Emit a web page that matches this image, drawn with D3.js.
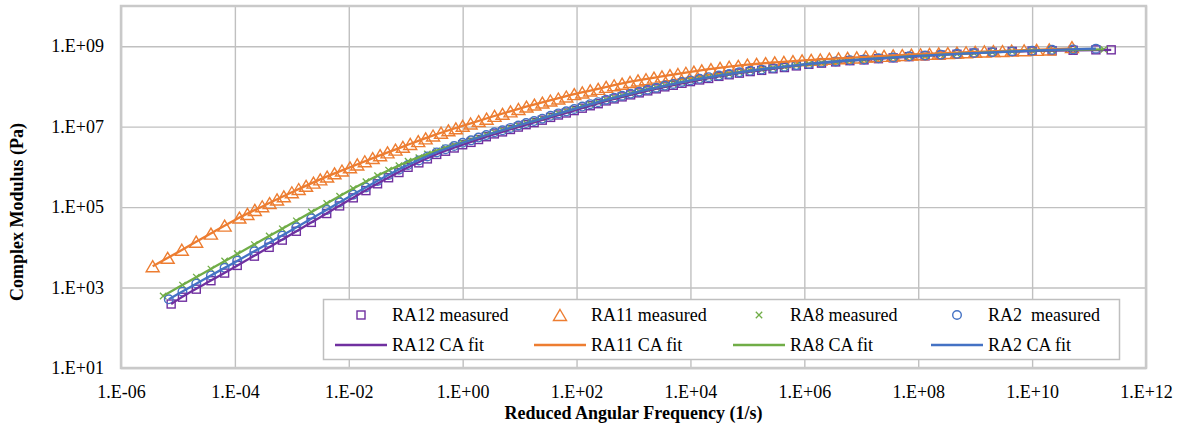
<!DOCTYPE html>
<html>
<head>
<meta charset="utf-8">
<script src="https://cdn.jsdelivr.net/npm/d3@7"></script>
<style>
    body { margin: 0; background: #ffffff; }
    svg { display: block; font-family: "Liberation Serif", "Times New Roman", serif; }
</style>
</head>
<body>
<div id="chart"></div>
<script>
// tick values and labels
var xTicks = [1e-6, 1e-4, 1e-2, 1e0, 1e2, 1e4, 1e6, 1e8, 1e10, 1e12];
var xTickLabels = ["1.E-06", "1.E-04", "1.E-02", "1.E+00", "1.E+02", "1.E+04", "1.E+06", "1.E+08", "1.E+10", "1.E+12"];
var yTicks = [1e1, 1e3, 1e5, 1e7, 1e9];
var yTickLabels = ["1.E+01", "1.E+03", "1.E+05", "1.E+07", "1.E+09"];

// measured data, reduced angular frequency (1/s) and complex modulus (Pa)
var ra12Freq = [7.6e-6, 1.2e-5, 2.1e-5, 3.8e-5, 6.6e-5, 1.1e-4, 2.2e-4, 4.0e-4, 6.8e-4, 1.2e-3, 2.2e-3, 4.1e-3, 6.9e-3, 1.2e-2, 2.0e-2, 3.2e-2, 5.0e-2, 7.6e-2, 0.11, 0.17, 0.24, 0.35, 0.50, 0.71, 1.0, 1.4, 1.9, 2.6, 3.6, 5.0, 6.9, 9.5, 13, 18, 25, 35, 48, 66, 91, 126, 174, 240, 331, 457, 631, 891, 1.26e3, 1.78e3, 2.51e3, 3.55e3, 5.0e3, 7.1e3, 1.0e4, 1.45e4, 2.09e4, 3.16e4, 4.79e4, 7.24e4, 1.12e5, 1.78e5, 2.82e5, 4.47e5, 7.24e5, 1.2e6, 2.0e6, 3.55e6, 6.31e6, 1.12e7, 2.0e7, 3.63e7, 6.92e7, 1.32e8, 2.51e8, 4.79e8, 9.55e8, 2.0e9, 4.47e9, 1.0e10, 2.24e10, 5.25e10, 1.32e11, 2.45e11];
var ra12Mod = [3.9e2, 5.75e2, 9.12e2, 1.48e3, 2.29e3, 3.55e3, 6.03e3, 1.0e4, 1.51e4, 2.51e4, 4.17e4, 6.92e4, 1.07e5, 1.70e5, 2.57e5, 3.80e5, 5.37e5, 7.24e5, 9.77e5, 1.26e6, 1.58e6, 2.04e6, 2.45e6, 2.95e6, 3.55e6, 4.07e6, 4.79e6, 5.62e6, 6.61e6, 7.41e6, 8.51e6, 9.77e6, 1.12e7, 1.26e7, 1.45e7, 1.70e7, 1.95e7, 2.19e7, 2.51e7, 2.88e7, 3.31e7, 3.72e7, 4.37e7, 4.90e7, 5.50e7, 6.17e7, 6.92e7, 7.76e7, 8.71e7, 9.77e7, 1.07e8, 1.20e8, 1.32e8, 1.45e8, 1.58e8, 1.78e8, 1.95e8, 2.14e8, 2.34e8, 2.51e8, 2.75e8, 2.95e8, 3.24e8, 3.55e8, 3.80e8, 4.07e8, 4.37e8, 4.57e8, 4.90e8, 5.13e8, 5.50e8, 5.75e8, 6.03e8, 6.31e8, 6.76e8, 7.08e8, 7.41e8, 7.59e8, 7.76e8, 7.94e8, 8.13e8, 8.13e8];

var ra11Freq = [3.6e-6, 6.6e-6, 1.17e-5, 2.09e-5, 3.8e-5, 6.61e-5, 1.2e-4, 1.66e-4, 2.24e-4, 3.02e-4, 4.07e-4, 5.5e-4, 7.24e-4, 1.0e-3, 1.32e-3, 1.78e-3, 2.4e-3, 3.16e-3, 4.17e-3, 5.62e-3, 7.59e-3, 1.05e-2, 1.41e-2, 1.91e-2, 2.63e-2, 3.55e-2, 4.79e-2, 6.61e-2, 8.91e-2, 0.12, 0.166, 0.224, 0.302, 0.417, 0.562, 0.759, 1.0, 1.38, 1.91, 2.63, 3.63, 5.01, 6.92, 9.55, 13.2, 18.2, 25.1, 34.7, 47.9, 66.1, 91.2, 126, 174, 240, 331, 457, 631, 871, 1.2e3, 1.66e3, 2.29e3, 3.16e3, 4.37e3, 6.03e3, 8.32e3, 1.15e4, 1.58e4, 2.29e4, 3.31e4, 4.79e4, 6.92e4, 1.0e5, 1.45e5, 2.09e5, 3.02e5, 4.37e5, 6.31e5, 9.12e5, 1.32e6, 1.91e6, 2.75e6, 3.98e6, 5.75e6, 8.32e6, 1.2e7, 1.74e7, 2.51e7, 3.63e7, 5.25e7, 7.59e7, 1.1e8, 1.58e8, 2.29e8, 3.31e8, 4.79e8, 6.92e8, 1.0e9, 1.45e9, 2.09e9, 3.02e9, 4.37e9, 7.24e9, 1.2e10, 2.0e10, 5.01e10];
var ra11Mod = [3.39e3, 5.50e3, 8.71e3, 1.38e4, 2.19e4, 3.47e4, 5.50e4, 6.76e4, 8.51e4, 1.05e5, 1.26e5, 1.55e5, 1.86e5, 2.34e5, 2.82e5, 3.39e5, 4.07e5, 4.90e5, 5.75e5, 6.92e5, 8.13e5, 9.77e5, 1.15e6, 1.38e6, 1.66e6, 1.95e6, 2.29e6, 2.69e6, 3.16e6, 3.72e6, 4.37e6, 5.13e6, 6.03e6, 7.08e6, 8.13e6, 9.12e6, 1.05e7, 1.20e7, 1.38e7, 1.58e7, 1.86e7, 2.09e7, 2.40e7, 2.75e7, 3.16e7, 3.55e7, 3.98e7, 4.47e7, 5.01e7, 5.62e7, 6.46e7, 7.08e7, 7.94e7, 8.71e7, 9.77e7, 1.07e8, 1.17e8, 1.29e8, 1.41e8, 1.51e8, 1.66e8, 1.78e8, 1.91e8, 2.04e8, 2.19e8, 2.34e8, 2.51e8, 2.69e8, 2.88e8, 3.09e8, 3.24e8, 3.47e8, 3.63e8, 3.80e8, 3.98e8, 4.07e8, 4.27e8, 4.47e8, 4.57e8, 4.68e8, 4.90e8, 5.01e8, 5.13e8, 5.25e8, 5.50e8, 5.62e8, 5.75e8, 5.89e8, 6.03e8, 6.17e8, 6.31e8, 6.46e8, 6.61e8, 6.76e8, 6.92e8, 7.08e8, 7.24e8, 7.41e8, 7.59e8, 7.59e8, 7.76e8, 7.94e8, 8.13e8, 8.32e8, 9.55e8];

var ra8Freq = [5.5e-6, 1.2e-5, 2.1e-5, 3.8e-5, 6.6e-5, 1.1e-4, 2.2e-4, 4.0e-4, 6.8e-4, 1.2e-3, 2.2e-3, 4.1e-3, 6.9e-3, 1.2e-2, 2.0e-2, 3.2e-2, 5.0e-2, 7.6e-2, 0.11, 0.17, 0.24, 0.35, 0.50, 0.71, 1.0, 1.4, 1.9, 2.6, 3.6, 5.0, 6.9, 9.5, 13, 18, 25, 35, 48, 66, 91, 126, 174, 240, 331, 457, 631, 891, 1.26e3, 1.78e3, 2.51e3, 3.55e3, 5.0e3, 7.1e3, 1.0e4, 1.45e4, 2.09e4, 3.16e4, 4.79e4, 7.24e4, 1.12e5, 1.78e5, 2.82e5, 4.47e5, 7.24e5, 1.2e6, 2.0e6, 3.55e6, 6.31e6, 1.12e7, 2.0e7, 3.63e7, 6.92e7, 1.32e8, 2.51e8, 4.79e8, 9.55e8, 2.0e9, 4.47e9, 1.0e10, 2.24e10, 5.25e10, 1.82e11];
var ra8Mod = [6.17e2, 1.15e3, 1.82e3, 2.88e3, 4.57e3, 6.92e3, 1.17e4, 1.91e4, 2.88e4, 4.57e4, 7.59e4, 1.23e5, 1.86e5, 2.88e5, 4.27e5, 6.03e5, 8.32e5, 1.07e6, 1.38e6, 1.70e6, 2.09e6, 2.51e6, 2.95e6, 3.47e6, 4.07e6, 4.68e6, 5.37e6, 6.31e6, 7.24e6, 8.32e6, 9.33e6, 1.07e7, 1.23e7, 1.41e7, 1.58e7, 1.86e7, 2.14e7, 2.45e7, 2.75e7, 3.16e7, 3.63e7, 4.07e7, 4.68e7, 5.25e7, 5.89e7, 6.61e7, 7.41e7, 8.32e7, 9.33e7, 1.05e8, 1.15e8, 1.29e8, 1.41e8, 1.55e8, 1.70e8, 1.86e8, 2.04e8, 2.24e8, 2.45e8, 2.63e8, 2.88e8, 3.09e8, 3.39e8, 3.63e8, 3.89e8, 4.17e8, 4.47e8, 4.68e8, 5.01e8, 5.25e8, 5.62e8, 5.89e8, 6.17e8, 6.46e8, 6.76e8, 7.08e8, 7.41e8, 7.76e8, 7.94e8, 8.13e8, 8.32e8];

var ra2Freq = [6.9e-6, 1.2e-5, 2.1e-5, 3.8e-5, 6.6e-5, 1.1e-4, 2.2e-4, 4.0e-4, 6.8e-4, 1.2e-3, 2.2e-3, 4.1e-3, 6.9e-3, 1.2e-2, 2.0e-2, 3.2e-2, 5.0e-2, 7.6e-2, 0.11, 0.17, 0.24, 0.35, 0.50, 0.71, 1.0, 1.4, 1.9, 2.6, 3.6, 5.0, 6.9, 9.5, 13, 18, 25, 35, 48, 66, 91, 126, 174, 240, 331, 457, 631, 891, 1.26e3, 1.78e3, 2.51e3, 3.55e3, 5.0e3, 7.1e3, 1.0e4, 1.45e4, 2.09e4, 3.16e4, 4.79e4, 7.24e4, 1.12e5, 1.78e5, 2.82e5, 4.47e5, 7.24e5, 1.2e6, 2.0e6, 3.55e6, 6.31e6, 1.12e7, 2.0e7, 3.63e7, 6.92e7, 1.32e8, 2.51e8, 4.79e8, 9.55e8, 2.0e9, 4.47e9, 1.0e10, 2.24e10, 5.25e10, 1.32e11];
var ra2Mod = [5.1e2, 7.9e2, 1.26e3, 2.0e3, 3.09e3, 4.68e3, 7.94e3, 1.29e4, 1.95e4, 3.16e4, 5.25e4, 8.51e4, 1.32e5, 2.04e5, 3.09e5, 4.47e5, 6.31e5, 8.51e5, 1.12e6, 1.45e6, 1.82e6, 2.29e6, 2.75e6, 3.31e6, 3.98e6, 4.57e6, 5.37e6, 6.17e6, 7.24e6, 8.13e6, 9.33e6, 1.07e7, 1.23e7, 1.38e7, 1.58e7, 1.86e7, 2.14e7, 2.40e7, 2.75e7, 3.16e7, 3.63e7, 4.07e7, 4.68e7, 5.25e7, 5.89e7, 6.61e7, 7.41e7, 8.32e7, 9.33e7, 1.05e8, 1.15e8, 1.29e8, 1.41e8, 1.55e8, 1.70e8, 1.86e8, 2.04e8, 2.24e8, 2.45e8, 2.63e8, 2.88e8, 3.09e8, 3.39e8, 3.63e8, 3.89e8, 4.17e8, 4.47e8, 4.68e8, 5.01e8, 5.25e8, 5.62e8, 5.89e8, 6.17e8, 6.46e8, 6.76e8, 7.08e8, 7.41e8, 7.76e8, 8.13e8, 8.32e8, 8.71e8];

// CA model fit curves
var ra12FitFreq = [7.6e-6, 1e-5, 3.16e-5, 1e-4, 3.16e-4, 1e-3, 3.16e-3, 1e-2, 3.16e-2, 0.1, 0.316, 1, 3.16, 10, 31.6, 100, 316, 1e3, 3.16e3, 1e4, 3.16e4, 1e5, 3.16e5, 1e6, 1e7, 1e8, 1e9, 1e10, 2.45e11];
var ra12Fit = [3.89e2, 5.01e2, 1.29e3, 3.24e3, 8.32e3, 2.14e4, 5.62e4, 1.48e5, 3.80e5, 9.12e5, 1.95e6, 3.55e6, 6.17e6, 1.0e7, 1.62e7, 2.63e7, 4.27e7, 6.46e7, 9.33e7, 1.32e8, 1.78e8, 2.29e8, 2.82e8, 3.47e8, 4.57e8, 5.62e8, 6.76e8, 7.59e8, 8.13e8];
var ra11FitFreq = [3.6e-6, 1e-5, 3.16e-5, 1e-4, 3.16e-4, 1e-3, 3.16e-3, 1e-2, 3.16e-2, 0.1, 0.316, 1, 3.16, 10, 31.6, 100, 316, 1e3, 3.16e3, 1e4, 3.16e4, 1e5, 3.16e5, 1e6, 1e7, 1e8, 1e9, 1e10, 5.01e10];
var ra11Fit = [3.39e3, 7.59e3, 1.91e4, 4.79e4, 1.07e5, 2.34e5, 4.90e5, 9.55e5, 1.82e6, 3.39e6, 6.17e6, 1.05e7, 1.74e7, 2.82e7, 4.37e7, 6.61e7, 9.55e7, 1.35e8, 1.78e8, 2.29e8, 2.88e8, 3.47e8, 3.98e8, 4.47e8, 5.37e8, 6.31e8, 7.24e8, 8.13e8, 8.71e8];
var ra8FitFreq = [5.5e-6, 1e-5, 3.16e-5, 1e-4, 3.16e-4, 1e-3, 3.16e-3, 1e-2, 3.16e-2, 0.1, 0.316, 1, 3.16, 10, 31.6, 100, 316, 1e3, 3.16e3, 1e4, 3.16e4, 1e5, 3.16e5, 1e6, 1e7, 1e8, 1e9, 1e10, 1.82e11];
var ra8Fit = [6.17e2, 1.0e3, 2.51e3, 6.31e3, 1.58e4, 3.98e4, 1.0e5, 2.51e5, 6.03e5, 1.29e6, 2.40e6, 4.07e6, 6.76e6, 1.10e7, 1.78e7, 2.88e7, 4.57e7, 6.92e7, 1.0e8, 1.41e8, 1.86e8, 2.40e8, 2.95e8, 3.55e8, 4.68e8, 5.75e8, 6.76e8, 7.76e8, 8.32e8];
var ra2FitFreq = [6.9e-6, 1e-5, 3.16e-5, 1e-4, 3.16e-4, 1e-3, 3.16e-3, 1e-2, 3.16e-2, 0.1, 0.316, 1, 3.16, 10, 31.6, 100, 316, 1e3, 3.16e3, 1e4, 3.16e4, 1e5, 3.16e5, 1e6, 1e7, 1e8, 1e9, 1e10, 1.32e11];
var ra2Fit = [5.13e2, 6.92e2, 1.74e3, 4.27e3, 1.07e4, 2.69e4, 6.92e4, 1.78e5, 4.47e5, 1.05e6, 2.19e6, 3.98e6, 6.76e6, 1.10e7, 1.78e7, 2.88e7, 4.57e7, 6.92e7, 1.0e8, 1.41e8, 1.86e8, 2.40e8, 2.95e8, 3.55e8, 4.68e8, 5.75e8, 6.76e8, 7.76e8, 8.71e8];

function zipSeries(xs, ys) {
    var out = [];
    for (var i = 0; i < Math.min(xs.length, ys.length); i++) {
        out.push({ x: xs[i], y: ys[i] });
    }
    return out;
}

var series = [
    { name: "RA12", label: "RA12 measured", fitLabel: "RA12 CA fit", color: "#7030a0", marker: "square",
      points: zipSeries(ra12Freq, ra12Mod), fit: zipSeries(ra12FitFreq, ra12Fit) },
    { name: "RA11", label: "RA11 measured", fitLabel: "RA11 CA fit", color: "#ed7d31", marker: "triangle",
      points: zipSeries(ra11Freq, ra11Mod), fit: zipSeries(ra11FitFreq, ra11Fit) },
    { name: "RA8", label: "RA8 measured", fitLabel: "RA8 CA fit", color: "#70ad47", marker: "cross",
      points: zipSeries(ra8Freq, ra8Mod), fit: zipSeries(ra8FitFreq, ra8Fit) },
    { name: "RA2", label: "RA2\u00a0 measured", fitLabel: "RA2 CA fit", color: "#4472c4", marker: "circle",
      points: zipSeries(ra2Freq, ra2Mod), fit: zipSeries(ra2FitFreq, ra2Fit) }
];

var width = 1182;
var height = 430;
var padding = { top: 6, right: 36, bottom: 62, left: 121 };

var xScale = d3.scaleLog()
    .domain([1e-6, 1e12])
    .range([padding.left, width - padding.right]);
var yScale = d3.scaleLog()
    .domain([1e1, 1e10])
    .range([height - padding.bottom, padding.top]);

var svg = d3.select('#chart')
    .append('svg')
    .attr('width', width)
    .attr('height', height);

// grid lines
var xGrid = d3.axisBottom(xScale)
    .tickValues(xTicks)
    .tickSize(-(height - padding.top - padding.bottom))
    .tickFormat("");
svg.append('g')
    .attr('class', 'grid')
    .attr('transform', 'translate(0,' + (height - padding.bottom) + ')')
    .call(xGrid);

var yGrid = d3.axisLeft(yScale)
    .tickValues(yTicks)
    .tickSize(-(width - padding.left - padding.right))
    .tickFormat("");
svg.append('g')
    .attr('class', 'grid')
    .attr('transform', 'translate(' + padding.left + ',0)')
    .call(yGrid);

svg.selectAll('.grid .domain').remove();
svg.selectAll('.grid line')
    .attr('stroke', '#c0c0c0')
    .attr('stroke-width', 1.4);

// plot area border
svg.append('rect')
    .attr('x', padding.left)
    .attr('y', padding.top)
    .attr('width', width - padding.left - padding.right)
    .attr('height', height - padding.bottom - padding.top)
    .attr('fill', 'none')
    .attr('stroke', '#c9c9c9')
    .attr('stroke-width', 2.5);

// axes labels
var xAxis = d3.axisBottom(xScale)
    .tickValues(xTicks)
    .tickSize(0)
    .tickPadding(17)
    .tickFormat(function(d, i) { return xTickLabels[i]; });
svg.append('g')
    .attr('class', 'axis')
    .attr('transform', 'translate(0,' + (height - padding.bottom) + ')')
    .call(xAxis);

var yAxis = d3.axisLeft(yScale)
    .tickValues(yTicks)
    .tickSize(0)
    .tickPadding(17)
    .tickFormat(function(d, i) { return yTickLabels[i]; });
svg.append('g')
    .attr('class', 'axis')
    .attr('transform', 'translate(' + padding.left + ',0)')
    .call(yAxis);

svg.selectAll('.axis .domain').remove();
svg.selectAll('.axis text')
    .attr('font-family', '"Liberation Serif", "Times New Roman", serif')
    .attr('font-size', 18)
    .attr('fill', '#000');

// text label for the x axis
svg.append("text")
    .attr("x", (padding.left + width - padding.right) / 2)
    .attr("y", 419)
    .attr("text-anchor", "middle")
    .attr("font-size", 18)
    .attr("font-weight", "bold")
    .text("Reduced Angular Frequency (1/s)");

// text label for the y axis
svg.append("text")
    .attr("transform", "translate(23,212) rotate(-90)")
    .attr("text-anchor", "middle")
    .attr("font-size", 18)
    .attr("font-weight", "bold")
    .text("Complex Modulus (Pa)");

function drawMarker(g, type, color) {
    if (type === "square") {
        g.append('rect')
            .attr('x', -4).attr('y', -4)
            .attr('width', 8).attr('height', 8)
            .attr('fill', 'none')
            .attr('stroke', color)
            .attr('stroke-width', 1.4);
    } else if (type === "triangle") {
        g.append('path')
            .attr('d', 'M0,-5.5L6.5,5.5L-6.5,5.5Z')
            .attr('fill', 'none')
            .attr('stroke', color)
            .attr('stroke-width', 1.4);
    } else if (type === "cross") {
        g.append('path')
            .attr('d', 'M-3.2,-3.2L3.2,3.2M-3.2,3.2L3.2,-3.2')
            .attr('fill', 'none')
            .attr('stroke', color)
            .attr('stroke-width', 1.3);
    } else {
        g.append('circle')
            .attr('r', 4.3)
            .attr('fill', 'none')
            .attr('stroke', color)
            .attr('stroke-width', 1.4);
    }
}

// measured points
series.forEach(function(s) {
    var grp = svg.append('g').attr('class', 'measured-' + s.name);
    grp.selectAll('g.pt')
        .data(s.points)
        .enter()
        .append('g')
        .attr('class', 'pt')
        .attr('transform', function(d) { return 'translate(' + xScale(d.x) + ',' + yScale(d.y) + ')'; })
        .each(function() { drawMarker(d3.select(this), s.marker, s.color); });
});

// fit lines
var linePath = d3.line()
    .x(function(d) { return xScale(d.x); })
    .y(function(d) { return yScale(d.y); })
    .curve(d3.curveMonotoneX);

series.forEach(function(s) {
    svg.append('path')
        .attr('class', 'fit-' + s.name)
        .attr('d', linePath(s.fit))
        .attr('fill', 'none')
        .attr('stroke', s.color)
        .attr('stroke-width', 2.3);
});

// legend
var legendCols = [361, 560, 759, 957];
var legend = svg.append('g').attr('class', 'legend');
legend.append('rect')
    .attr('x', 323.5)
    .attr('y', 299.5)
    .attr('width', 796)
    .attr('height', 60)
    .attr('fill', '#fff')
    .attr('stroke', '#bfbfbf')
    .attr('stroke-width', 1.5);

series.forEach(function(s, i) {
    var cx = legendCols[i];
    var m = legend.append('g').attr('transform', 'translate(' + cx + ',315)');
    drawMarker(m, s.marker, s.color);
    legend.append('text')
        .attr('x', cx + 31)
        .attr('y', 321)
        .attr('font-size', 18)
        .text(s.label);
    legend.append('line')
        .attr('x1', cx - 26).attr('x2', cx + 26)
        .attr('y1', 345).attr('y2', 345)
        .attr('stroke', s.color)
        .attr('stroke-width', 2.5);
    legend.append('text')
        .attr('x', cx + 31)
        .attr('y', 351)
        .attr('font-size', 18)
        .text(s.fitLabel);
});
</script>
</body>
</html>
